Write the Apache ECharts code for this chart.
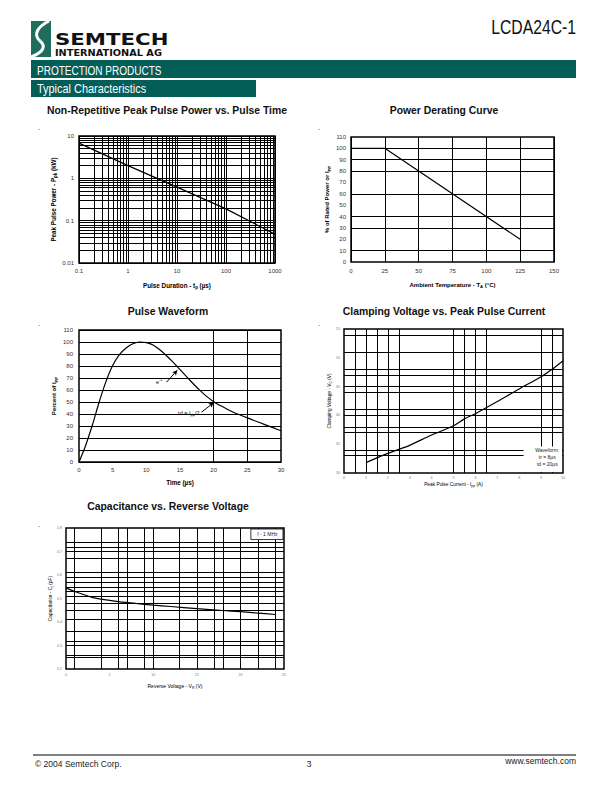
<!DOCTYPE html>
<html><head><meta charset="utf-8">
<script src="https://cdn.jsdelivr.net/npm/echarts@6/dist/echarts.min.js"></script>
<style>html,body{margin:0;padding:0;background:#fff}#c{width:612px;height:792px}</style>
</head><body><div id="c"></div>
<script>
// ---------- DATA ----------
// Chart 1: Non-Repetitive Peak Pulse Power vs. Pulse Time
const pulseTime = [0.1, 1, 10, 100, 1000];
const pulsePowerKW = [6.8, 2.0, 0.62, 0.19, 0.048];
const pulseMinorX = [0.2,0.3,0.4,0.5,0.6,0.7,0.8,0.9, 2,3,4,5,6,7,8,9, 20,30,40,50,60,70,80,90, 200,300,400,500,600,700,800,900];
const pulseMinorY = [0.02,0.03,0.04,0.05,0.06,0.07,0.08,0.09, 0.2,0.3,0.4,0.5,0.6,0.7,0.8,0.9, 2,3,4,5,6,7,8,9];
// Chart 2: Power Derating Curve
const derateTemp = [0, 25, 125];
const deratePct = [100, 100, 20];
const derateGridY = [100, 90, 80, 60, 40, 30, 10];
// Chart 3: Pulse Waveform
const waveTime = [0,1,2,3,4,5,6,7,8,9,10,11,12,13,14,15,16,17,18,19,20,21,22,23,24,25,26,27,28,29,30];
const wavePct  = [0,14,31,50,67,80.5,89.5,95,98.5,100,99.5,97.5,93.5,88.5,83,77,71,65,59.5,54.5,50.3,47,44,41.3,39,36.8,34.6,32.5,30.3,28.2,26];
const waveGridX = [20, 25];
// Chart 4: Clamping Voltage vs. Peak Pulse Current
const clampI = [1, 2, 2.5, 3, 4, 5, 5.5, 6, 7, 8, 9, 9.5, 10];
const clampV = [31.8, 33.4, 34.1, 34.8, 36.6, 38.2, 39.4, 40.3, 42.4, 44.6, 46.7, 48.0, 49.5];
const clampGridX = [0.5, 1, 1.5, 2, 2.5, 5, 5.5, 6, 6.5, 9, 9.5];
const clampGridY = [54, 51, 48, 47, 45, 44, 41, 40, 38, 37, 34, 33];
// Chart 5: Capacitance vs. Reverse Voltage
const capV = [0, 1, 2, 3, 4, 6, 8, 10, 12, 15, 18, 20, 22, 24];
const capPF = [0.545, 0.530, 0.517, 0.505, 0.497, 0.487, 0.479, 0.472, 0.466, 0.457, 0.449, 0.444, 0.438, 0.432];
const capGridX = [1, 4, 6, 7, 9, 10, 13, 15, 17, 18, 20, 22, 24];
const capGridY = [0.744, 0.724, 0.703, 0.667, 0.61, 0.589, 0.568, 0.554, 0.529, 0.51, 0.483, 0.453, 0.414, 0.358, 0.322, 0.3, 0.261, 0.25];

// ---------- STYLE ----------
const NARROW = "'Liberation Sans Narrow','Liberation Sans',Arial,sans-serif";
const SANS = "'Liberation Sans',Arial,sans-serif";
const TEAL = '#035e58';

const chart = echarts.init(document.getElementById('c'), null, {renderer:'svg', width:612, height:792});

function nameStyle(fs, bold){
  const w = bold ? 'bold' : 'normal';
  return { rich:{
    b:{fontSize:fs, fontWeight:w, fontFamily:SANS, color:'#000'},
    s:{fontSize:fs*0.7, fontWeight:w, fontFamily:SANS, color:'#000', padding:[fs*0.55,0,0,0]}
  }};
}
function lbl(fs, color, margin, fmt){
  const o = {fontSize:fs, color:color, fontFamily:SANS, margin:margin, showMinLabel:true, showMaxLabel:true, hideOverlap:false};
  if (fmt) o.formatter = fmt;
  return o;
}
function gridLines(xs, ys){
  return {
    silent:true, symbol:'none', label:{show:false}, animation:false,
    lineStyle:{type:'solid', color:'#000', width:1},
    emphasis:{disabled:true},
    data:[...xs.map(v=>({xAxis:v})), ...ys.map(v=>({yAxis:v}))]
  };
}
const split = {show:true, lineStyle:{color:'#000', width:1, type:'solid'}};
const nosplit = {show:false};
const logFmt = v => String(parseFloat(Number(v).toPrecision(2)));

const grids = [
  {left:79, top:136, width:196, height:127},
  {left:351, top:137, width:203, height:125},
  {left:79, top:330, width:202, height:132},
  {left:344, top:329, width:219, height:144},
  {left:66, top:528, width:218, height:141}
].map(g => Object.assign({show:true, borderColor:'#000', borderWidth:1.5, backgroundColor:'transparent', containLabel:false}, g));

function ax(o){
  return Object.assign({axisLine:{show:false}, axisTick:{show:false}, nameLocation:'middle'}, o);
}

const xAxes = [
  ax({gridIndex:0, type:'log', logBase:10, min:0.1, max:1000, splitLine:split,
      axisLabel:lbl(6,'#333',5,logFmt),
      name:'{b|Pulse Duration - t}{s|p}{b| (µs)}', nameGap:19, nameTextStyle:nameStyle(6.3,true)}),
  ax({gridIndex:1, type:'value', min:0, max:150, interval:25, splitLine:split,
      axisLabel:lbl(6,'#333',6),
      name:'{b|Ambient Temperature - T}{s|A}{b| (°C)}', nameGap:19, nameTextStyle:nameStyle(6,true)}),
  ax({gridIndex:2, type:'value', min:0, max:30, interval:5, splitLine:nosplit,
      axisLabel:lbl(6,'#333',5),
      name:'{b|Time (µs)}', nameGap:17, nameTextStyle:nameStyle(6.3,true)}),
  ax({gridIndex:3, type:'value', min:0, max:10, interval:1, splitLine:nosplit,
      axisLabel:lbl(3.6,'#777',3),
      name:'{b|Peak Pulse Current - I}{s|pp}{b| (A)}', nameGap:9, nameTextStyle:nameStyle(4.8,false)}),
  ax({gridIndex:4, type:'value', min:0, max:25, interval:5, splitLine:nosplit,
      axisLabel:lbl(3.6,'#777',4),
      name:'{b|Reverse Voltage - V}{s|R}{b| (V)}', nameGap:14, nameTextStyle:nameStyle(5,false)})
];
const yAxes = [
  ax({gridIndex:0, type:'log', logBase:10, min:0.01, max:10, splitLine:split,
      axisLabel:lbl(6,'#333',5,logFmt),
      name:'{b|Peak Pulse Power - P}{s|pk}{b| (kW)}', nameGap:22, nameTextStyle:nameStyle(6.3,true)}),
  ax({gridIndex:1, type:'value', min:0, max:110, interval:10, splitLine:nosplit,
      axisLabel:lbl(6,'#333',5),
      name:'{b|% of Rated Power or I}{s|PP}', nameGap:20, nameTextStyle:nameStyle(6,true)}),
  ax({gridIndex:2, type:'value', min:0, max:110, interval:10, splitLine:split,
      axisLabel:lbl(6,'#333',6),
      name:'{b|Percent of I}{s|PP}', nameGap:21, nameTextStyle:nameStyle(6,true)}),
  ax({gridIndex:3, type:'value', min:30, max:55, interval:5, splitLine:nosplit,
      axisLabel:lbl(3.6,'#777',4),
      name:'{b|Clamping Voltage - V}{s|C}{b| (V)}', nameGap:10, nameTextStyle:nameStyle(4.8,false)}),
  ax({gridIndex:4, type:'value', min:0.2, max:0.8, interval:0.1, splitLine:nosplit,
      axisLabel:lbl(3.6,'#777',4, v => Number(v).toFixed(1)),
      name:'{b|Capacitance - C}{s|j}{b| (pF)}', nameGap:12, nameTextStyle:nameStyle(4.8,false)})
];

const curve = {type:'line', symbol:'none', showSymbol:false, silent:true, animation:false,
               lineStyle:{color:'#000', width:1.2}, emphasis:{disabled:true}};
function zip(a,b){ return a.map((v,i)=>[v,b[i]]); }

const series = [
  Object.assign({}, curve, {xAxisIndex:0, yAxisIndex:0, data:zip(pulseTime,pulsePowerKW), markLine:gridLines(pulseMinorX,pulseMinorY)}),
  Object.assign({}, curve, {xAxisIndex:1, yAxisIndex:1, data:zip(derateTemp,deratePct), markLine:gridLines([],derateGridY)}),
  Object.assign({}, curve, {xAxisIndex:2, yAxisIndex:2, data:zip(waveTime,wavePct), smooth:0.35, markLine:gridLines(waveGridX,[])}),
  Object.assign({}, curve, {xAxisIndex:3, yAxisIndex:3, data:zip(clampI,clampV), smooth:0.3, markLine:gridLines(clampGridX,clampGridY)}),
  Object.assign({}, curve, {xAxisIndex:4, yAxisIndex:4, data:zip(capV,capPF), smooth:0.3, markLine:gridLines(capGridX,capGridY)}),
  // annotation arrows for the pulse waveform
  {type:'line', xAxisIndex:2, yAxisIndex:2, data:[], silent:true, animation:false,
   markLine:{silent:true, animation:false, label:{show:false}, symbol:['none','arrow'], symbolSize:[4,5],
     lineStyle:{type:'solid', color:'#000', width:1}, emphasis:{disabled:true},
     data:[ [{coord:[13.0,66.5]},{coord:[14.6,76.5]}], [{coord:[18.2,41.5]},{coord:[20.0,49.5]}] ]}}
];

const titleStyle = {fontFamily:SANS, fontWeight:'bold', fontSize:10.4, color:'#111'};
const titles = [
  {text:'Non-Repetitive Peak Pulse Power vs. Pulse Time', left:167, top:105},
  {text:'Power Derating Curve', left:444, top:105},
  {text:'Pulse Waveform', left:168, top:306},
  {text:'Clamping Voltage vs. Peak Pulse Current', left:444, top:306},
  {text:'Capacitance vs. Reverse Voltage', left:168, top:501}
].map(t => Object.assign({textAlign:'center', padding:0, textStyle:titleStyle}, t));

chart.setOption({
  animation:false,
  backgroundColor:'#fff',
  title:titles,
  grid:grids, xAxis:xAxes, yAxis:yAxes, series:series
});

// ---------- page decorations / annotations ----------
function px(gi, x, y){ return chart.convertToPixel({gridIndex:gi}, [x,y]); }
const g = [];
// header logo
g.push({type:'rect', shape:{x:31, y:21, width:20, height:36}, style:{fill:'#1f6d5c'}});
g.push({type:'bezierCurve', shape:{x1:49, y1:21, cpx1:37, cpy1:27, cpx2:33, cpy2:35, x2:40, y2:41}, style:{fill:'none', stroke:'#fff', lineWidth:3}});
g.push({type:'bezierCurve', shape:{x1:40, y1:41, cpx1:46, cpy1:46, cpx2:44, cpy2:52, x2:31, y2:57}, style:{fill:'none', stroke:'#fff', lineWidth:3}});
g.push({type:'text', x:55, y:39.5, scaleX:1.33, originX:0, originY:0, style:{text:'SEMTECH', font:"bold 16px 'DejaVu Sans', sans-serif", fill:'#111', verticalAlign:'middle'}});
g.push({type:'text', x:55, y:53, scaleX:1.22, originX:0, originY:0, style:{text:'INTERNATIONAL AG', font:"bold 8px 'DejaVu Sans', sans-serif", fill:'#111', verticalAlign:'middle'}});
g.push({type:'text', x:576, y:27, scaleX:0.75, originX:0, originY:0, style:{text:'LCDA24C-1', font:"21px "+SANS, fill:'#111', align:'right', verticalAlign:'middle'}});
g.push({type:'rect', shape:{x:31, y:60, width:545, height:18}, style:{fill:TEAL}});
g.push({type:'text', x:37, y:69.5, scaleX:0.77, originX:0, originY:0, style:{text:'PROTECTION PRODUCTS', font:"13px "+SANS, fill:'#fff', verticalAlign:'middle'}});
g.push({type:'rect', shape:{x:31, y:80, width:225, height:17}, style:{fill:TEAL}});
g.push({type:'text', x:37, y:89, scaleX:0.84, originX:0, originY:0, style:{text:'Typical Characteristics', font:"13px "+SANS, fill:'#fff', verticalAlign:'middle'}});
// little dots
[[38,127],[318,127],[38,323],[318,323],[38,524]].forEach(p => g.push({type:'text', x:p[0], y:p[1], style:{text:'.', font:"7px "+SANS, fill:'#000', verticalAlign:'middle'}}));
// footer
g.push({type:'line', shape:{x1:33, y1:755, x2:576, y2:755}, style:{stroke:'#000', lineWidth:1}});
g.push({type:'text', x:35, y:764, style:{text:'© 2004 Semtech Corp.', font:"8.5px "+SANS, fill:'#222', verticalAlign:'middle'}});
g.push({type:'text', x:309, y:764, style:{text:'3', font:"8.5px "+SANS, fill:'#222', align:'center', verticalAlign:'middle'}});
g.push({type:'text', x:576, y:761, style:{text:'www.semtech.com', font:"8.5px "+SANS, fill:'#222', align:'right', verticalAlign:'middle'}});

// Pulse waveform labels
let p = px(2, 12.4, 67);
g.push({type:'text', x:p[0], y:p[1], z:100, style:{text:'{a|e}{b|-1}', align:'right', verticalAlign:'middle',
  rich:{a:{fontSize:5.5, fontFamily:SANS, fill:'#000'}, b:{fontSize:4, fontFamily:SANS, fill:'#000', padding:[0,0,4,0]}}}});
p = px(2, 17.9, 41);
g.push({type:'text', x:p[0], y:p[1], z:100, style:{text:'{a|td = I}{b|pp}{a|/2}', align:'right', verticalAlign:'middle',
  rich:{a:{fontSize:5.5, fontFamily:SANS, fill:'#000'}, b:{fontSize:4, fontFamily:SANS, fill:'#000', padding:[3,0,0,0]}}}});

// Clamping legend box
let a = px(3, 8.2, 34.6), b = px(3, 10, 30);
g.push({type:'rect', z:100, shape:{x:a[0], y:a[1], width:b[0]-a[0]-1, height:b[1]-a[1]-1}, style:{fill:'#fff'}});
g.push({type:'text', z:101, x:(a[0]+b[0])/2+4, y:a[1]+10, style:{text:'Waveform:\ntr = 8µs\ntd = 20µs', align:'center', verticalAlign:'middle', lineHeight:7, font:"5px "+SANS, fill:'#222'}});
// Capacitance legend box
a = px(4, 21.2, 0.8); b = px(4, 25, 0.755);
g.push({type:'rect', z:100, shape:{x:a[0], y:a[1]+1, width:b[0]-a[0]-1, height:b[1]-a[1]}, style:{fill:'#fff', stroke:'#000', lineWidth:0.8}});
g.push({type:'text', z:101, x:(a[0]+b[0])/2, y:(a[1]+b[1])/2+1, style:{text:'f - 1 MHz', align:'center', verticalAlign:'middle', font:"5px "+SANS, fill:'#222'}});

chart.setOption({graphic:{elements:g}});
</script></body></html>
